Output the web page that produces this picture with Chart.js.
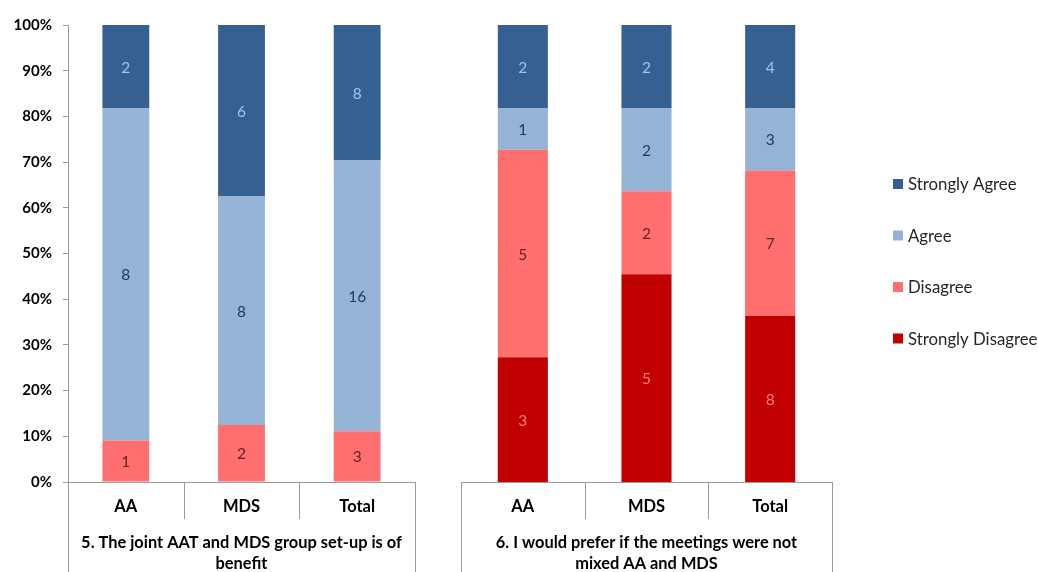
<!DOCTYPE html>
<html>
<head>
<meta charset="utf-8">
<script src="https://cdn.jsdelivr.net/npm/chart.js@4.4.0/dist/chart.umd.min.js"></script>
<style>
  html, body { margin: 0; padding: 0; background: #ffffff; }
  #wrap { position: relative; width: 1038px; height: 572px; overflow: hidden; }
  #c1wrap { position: absolute; left: 0; top: 0; width: 430px; height: 572px; }
  #c2wrap { position: absolute; left: 440px; top: 0; width: 598px; height: 572px; }
</style>
</head>
<body>
<div id="wrap">
  <div id="c1wrap"><canvas id="c1"></canvas></div>
  <div id="c2wrap"><canvas id="c2"></canvas></div>
</div>
<script>
// ---------- DATA ----------
const categories = ['AA', 'MDS', 'Total'];
const seriesNames = ['Strongly Disagree', 'Disagree', 'Agree', 'Strongly Agree'];
const q5Title = ['5. The joint AAT and MDS group set-up is of', 'benefit'];
const q6Title = ['6. I would prefer if the meetings were not', 'mixed AA and MDS'];

const q5StronglyDisagree = [0, 0, 0];
const q5Disagree         = [1, 2, 3];
const q5Agree            = [8, 8, 16];
const q5StronglyAgree    = [2, 6, 8];

const q6StronglyDisagree = [3, 5, 8];
const q6Disagree         = [5, 2, 7];
const q6Agree            = [1, 2, 3];
const q6StronglyAgree    = [2, 2, 4];

const yTickStep = 10; // percent

// ---------- STYLE ----------
const FONT = 'Lato';
const seriesColors = ['#C00000', '#FF6F6F', '#95B3D7', '#376092'];
const labelColors  = ['#FF7C80', '#632523', '#1F3A60', '#A8C2E2'];
const lineColor = '#9a9a9a';

function buildDatasets(counts) {
  const n = counts[0].length;
  const totals = [];
  for (let i = 0; i < n; i++) {
    let t = 0;
    counts.forEach(s => { t += s[i]; });
    totals.push(t);
  }
  return counts.map((s, k) => ({
    label: seriesNames[k],
    data: s.map((v, i) => totals[i] ? v / totals[i] * 100 : 0),
    counts: s,
    backgroundColor: seriesColors[k],
    labelColor: labelColors[k],
    borderWidth: 0,
    categoryPercentage: 1,
    barPercentage: 0.405
  }));
}

const segLabelPlugin = {
  id: 'segLabels',
  afterDatasetsDraw(chart) {
    const ctx = chart.ctx;
    ctx.save();
    ctx.font = '15.5px ' + FONT;
    ctx.textAlign = 'center';
    ctx.textBaseline = 'middle';
    chart.data.datasets.forEach((ds, di) => {
      const meta = chart.getDatasetMeta(di);
      meta.data.forEach((bar, i) => {
        const c = ds.counts[i];
        if (!c) return;
        const p = bar.getProps(['x', 'y', 'base'], true);
        ctx.fillStyle = ds.labelColor;
        ctx.fillText(String(c), p.x, (p.y + p.base) / 2 + 1);
      });
    });
    ctx.restore();
  }
};

const groupAxisPlugin = {
  id: 'groupAxis',
  afterDraw(chart, args, opts) {
    const ctx = chart.ctx;
    const xs = chart.scales.x;
    const area = chart.chartArea;
    const n = chart.data.labels.length;
    const cw = (area.right - area.left) / n;
    const H = chart.height;
    const bottom = area.bottom;
    ctx.save();
    ctx.strokeStyle = lineColor;
    ctx.lineWidth = 1;
    ctx.beginPath();
    ctx.moveTo(area.left, bottom + 0.5);
    ctx.lineTo(area.right, bottom + 0.5);
    ctx.moveTo(Math.round(area.left) + 0.5, bottom);
    ctx.lineTo(Math.round(area.left) + 0.5, H);
    ctx.moveTo(Math.round(area.right) + 0.5, bottom);
    ctx.lineTo(Math.round(area.right) + 0.5, H);
    for (let i = 1; i < n; i++) {
      const x = Math.round(area.left + cw * i) + 0.5;
      ctx.moveTo(x, bottom);
      ctx.lineTo(x, bottom + 37);
    }
    ctx.stroke();
    ctx.fillStyle = '#000000';
    ctx.font = 'bold 16.5px ' + FONT;
    ctx.textAlign = 'center';
    ctx.textBaseline = 'middle';
    chart.data.labels.forEach((lab, i) => {
      ctx.fillText(lab, xs.getPixelForValue(i), bottom + 25);
    });
    ctx.font = 'bold 16.4px ' + FONT;
    const cx = (area.left + area.right) / 2;
    opts.title.forEach((line, j) => {
      ctx.fillText(line, cx, bottom + 61 + j * 21);
    });
    ctx.restore();
  }
};

const legendPlugin = {
  id: 'customLegend',
  afterDraw(chart, args, opts) {
    if (!opts.show) return;
    const ctx = chart.ctx;
    const area = chart.chartArea;
    const x0 = area.right + 61;
    const ys = [184, 235.5, 287, 338.5];
    ctx.save();
    ctx.font = '16.8px ' + FONT;
    ctx.textAlign = 'left';
    ctx.textBaseline = 'middle';
    const dsets = chart.data.datasets.slice().reverse();
    dsets.forEach((ds, i) => {
      ctx.fillStyle = ds.backgroundColor;
      ctx.fillRect(x0, ys[i] - 5, 10, 10);
      ctx.fillStyle = '#262626';
      ctx.fillText(ds.label, x0 + 15, ys[i] + 1);
    });
    ctx.restore();
  }
};

function makeChart(id, counts, title, showY, padding, showLegend) {
  return new Chart(document.getElementById(id), {
    type: 'bar',
    data: { labels: categories, datasets: buildDatasets(counts) },
    options: {
      responsive: true,
      maintainAspectRatio: false,
      animation: false,
      layout: { padding: padding },
      plugins: {
        legend: { display: false },
        tooltip: { enabled: false },
        groupAxis: { title: title },
        customLegend: { show: showLegend }
      },
      scales: {
        x: {
          stacked: true,
          grid: { display: false },
          border: { display: false },
          ticks: { display: false },
          afterFit(s) { s.height = 90; }
        },
        y: {
          stacked: true,
          display: showY,
          min: 0, max: 100,
          grid: { drawOnChartArea: false, drawTicks: true, tickLength: 5, color: lineColor },
          border: { display: true, color: lineColor },
          ticks: {
            stepSize: yTickStep,
            padding: 11,
            color: '#000000',
            font: { family: FONT, size: 15, weight: 'bold' },
            callback: v => v + '%'
          },
          afterFit(s) { s.width = showY ? 68 : 0; }
        }
      }
    },
    plugins: [segLabelPlugin, groupAxisPlugin, legendPlugin]
  });
}

makeChart('c1',
  [q5StronglyDisagree, q5Disagree, q5Agree, q5StronglyAgree],
  q5Title, true, { left: 0, right: 15, top: 25, bottom: 0 }, false);
makeChart('c2',
  [q6StronglyDisagree, q6Disagree, q6Agree, q6StronglyAgree],
  q6Title, false, { left: 21, right: 206, top: 25, bottom: 0 }, true);
</script>
</body>
</html>
